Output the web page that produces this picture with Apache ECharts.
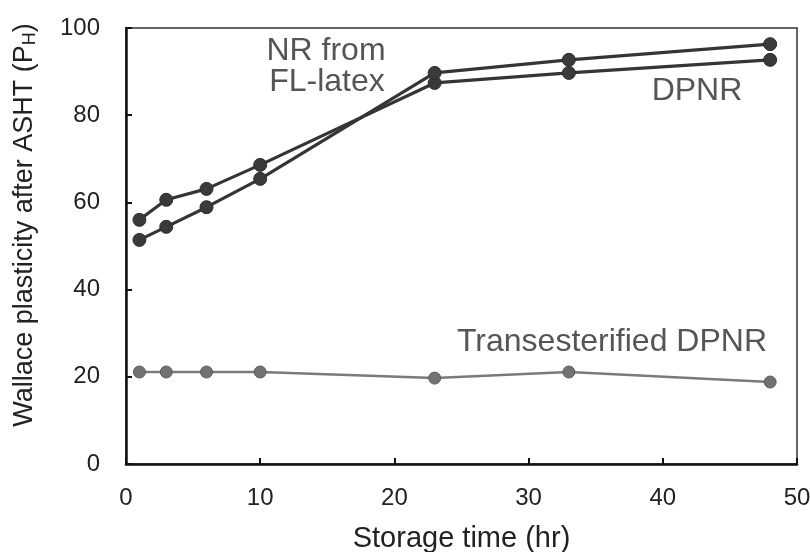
<!DOCTYPE html>
<html><head><meta charset="utf-8">
<script src="https://cdn.jsdelivr.net/npm/echarts@6/dist/echarts.min.js"></script>
<style>html,body{margin:0;padding:0;background:#fff}#c{width:810px;height:552px}</style>
</head><body><div id="c"></div>
<script>
var storageTime = [1, 3, 6, 10, 23, 33, 48];
var nrFromFlLatex = [56.0, 60.6, 63.1, 68.6, 87.4, 89.7, 92.7];
var dpnr = [51.4, 54.4, 58.9, 65.4, 89.7, 92.7, 96.3];
var transesterifiedDpnr = [21.1, 21.1, 21.1, 21.1, 19.7, 21.1, 18.8];
var xTicks = [0, 10, 20, 30, 40, 50];
var yTicks = [0, 20, 40, 60, 80, 100];

function pairs(xs, ys) { return xs.map(function (x, i) { return [x, ys[i]]; }); }

var font = 'Liberation Sans, Arial, sans-serif';
var chart = echarts.init(document.getElementById('c'));
var darkLine = { color: '#353535', width: 3.2 };
chart.setOption({
  animation: false,
  grid: { left: 126, right: 13, top: 28, bottom: 88, outerBoundsMode: 'none', containLabel: false,
    show: true, borderColor: '#333', borderWidth: 1.5, backgroundColor: 'transparent' },
  xAxis: {
    type: 'value', min: xTicks[0], max: xTicks[xTicks.length - 1], interval: 10,
    name: 'Storage time (hr)', nameLocation: 'middle', nameGap: 60,
    nameTextStyle: { fontFamily: font, fontSize: 29, color: '#222' },
    axisLine: { lineStyle: { color: '#111', width: 2.5 } },
    axisTick: { inside: true, length: 6, lineStyle: { color: '#111', width: 2 } },
    axisLabel: { margin: 22, fontFamily: font, fontSize: 24, color: '#222', showMinLabel: true, showMaxLabel: true },
    splitLine: { show: false }
  },
  yAxis: {
    type: 'value', min: yTicks[0], max: yTicks[yTicks.length - 1], interval: 20,
    axisLine: { show: true, lineStyle: { color: '#111', width: 2.5 } },
    axisTick: { show: true, inside: true, length: 6, lineStyle: { color: '#111', width: 2 } },
    axisLabel: { margin: 26, fontFamily: font, fontSize: 24, color: '#222' },
    splitLine: { show: false }
  },
  series: [
    { name: 'NR from FL-latex', type: 'line', data: pairs(storageTime, nrFromFlLatex),
      symbol: 'circle', symbolSize: 13, lineStyle: darkLine,
      itemStyle: { color: '#3a3a3a', borderColor: '#2a2a2a', borderWidth: 1 }, z: 3 },
    { name: 'DPNR', type: 'line', data: pairs(storageTime, dpnr),
      symbol: 'circle', symbolSize: 13, lineStyle: darkLine,
      itemStyle: { color: '#3a3a3a', borderColor: '#2a2a2a', borderWidth: 1 }, z: 3 },
    { name: 'Transesterified DPNR', type: 'line', data: pairs(storageTime, transesterifiedDpnr),
      symbol: 'circle', symbolSize: 12, lineStyle: { color: '#7a7a7a', width: 2.5 },
      itemStyle: { color: '#727272', borderColor: '#5a5a5a', borderWidth: 1 }, z: 2 }
  ],
  graphic: [
    { type: 'text', x: 25, y: 225, rotation: Math.PI / 2,
      style: { text: 'Wallace plasticity after ASHT (P{sub|H})', fontFamily: font, fontSize: 27, fill: '#222',
        align: 'center', verticalAlign: 'middle',
        rich: { sub: { fontSize: 18, fontFamily: font, fill: '#222', verticalAlign: 'bottom', padding: [10, 0, 0, 0] } } } },
    { type: 'text', x: 326, y: 51, style: { text: 'NR from', fontFamily: font, fontSize: 32, fill: '#555', align: 'center', verticalAlign: 'middle' } },
    { type: 'text', x: 327, y: 82, style: { text: 'FL-latex', fontFamily: font, fontSize: 32, fill: '#555', align: 'center', verticalAlign: 'middle' } },
    { type: 'text', x: 697, y: 91, style: { text: 'DPNR', fontFamily: font, fontSize: 32, fill: '#555', align: 'center', verticalAlign: 'middle' } },
    { type: 'text', x: 612, y: 342, style: { text: 'Transesterified DPNR', fontFamily: font, fontSize: 32, fill: '#555', align: 'center', verticalAlign: 'middle' } }
  ]
});
</script></body></html>
